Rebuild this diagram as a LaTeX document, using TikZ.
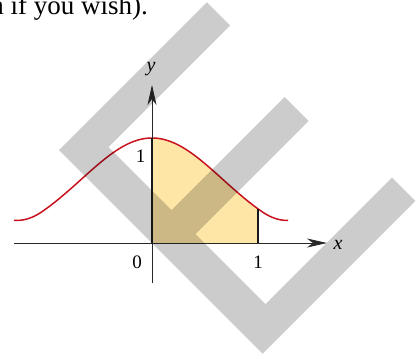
\documentclass[tikz,border=0pt]{standalone}
\usepackage{fontspec}
\setmainfont{Liberation Serif}
\usetikzlibrary{arrows.meta}
\definecolor{wmgray}{RGB}{204,204,204}
\definecolor{areafill}{RGB}{254,230,166}
\definecolor{curvered}{RGB}{200,18,32}
\definecolor{axiscol}{RGB}{40,40,40}
\tikzset{
  axisline/.style={draw=axiscol, line width=0.8pt},
  axisarrow/.style={-{Stealth[length=20pt,width=9pt,inset=6pt]}},
  edgeline/.style={draw=black!90, line width=2pt},
  lbl/.style={inner sep=0pt, font=\fontsize{19}{22}\selectfont},
  watermark/.style={fill=wmgray, blend mode=multiply},
}
\begin{document}
\begin{tikzpicture}[x=1pt,y=-1pt]
\useasboundingbox (0,0) rectangle (420,357);
% top text (cut off)
\node[anchor=base east, inner sep=0pt, font=\fontsize{27}{30}\selectfont] (toptext) at (148,14) {n if you wish).};
% coordinates
\coordinate (O) at (152,243);
\coordinate (xs) at (14,243);
\coordinate (xe) at (327,243);
\coordinate (ys) at (152,283);
\coordinate (ye) at (152,85);
\coordinate (P) at (152,138);
\coordinate (one) at (258,243);
% shaded area
\fill[areafill] (O) -- plot[domain=152:258, samples=60] (\x,{243-(105*exp(-((\x-152)/100)^2))}) -- (one) -- cycle;
% curve
\draw[curvered, line width=1.5pt] plot[domain=14:288, samples=120, smooth] (\x,{243-(105*exp(-((\x-152)/100)^2)+7*(max(0,abs(\x-152)-110)/28)^2)});
% axes
\draw[axisline, axisarrow] (xs) -- (xe);
\draw[axisline, axisarrow] (ys) -- (ye);
% verticals
\coordinate (topone) at (258,{243-105*exp(-(106/100)^2)});
\draw[edgeline] (O) -- (P);
\draw[edgeline] (one) -- (topone);
% labels
\node[lbl, anchor=base, font=\fontsize{20}{22}\selectfont\itshape] (xl) at (338,249) {x};
\node[lbl, anchor=base, font=\fontsize{20}{22}\selectfont\itshape] (yl) at (151,71) {y};
\node[lbl, anchor=base] (zero) at (137,268) {0};
\node[lbl, anchor=base] (onex) at (258,268) {1};
\node[lbl, anchor=base] (oney) at (140.5,162) {1};
% watermark E
\begin{scope}[shift={(59,150)}, rotate=-45]
\fill[watermark] (0,0) -- (288,0) -- (288,-216) -- (255,-216) -- (255,-37) -- (156,-37) -- (156,-197) -- (122,-197) -- (122,-37) -- (33,-37) -- (33,-209) -- (0,-209) -- cycle;
\end{scope}
\end{tikzpicture}
\end{document}
